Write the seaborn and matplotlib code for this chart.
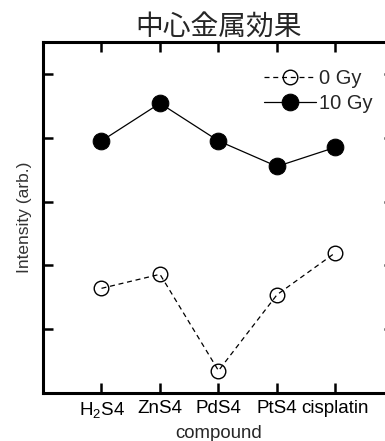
import matplotlib
matplotlib.use("Agg")
import matplotlib.pyplot as plt
import seaborn as sns
import pandas as pd

compounds = ["$\\mathregular{H_2}$S4", "ZnS4", "PdS4", "PtS4", "cisplatin"]
dose_labels = ["0 Gy", "10 Gy"]
vals_0gy = [1.64, 1.86, 0.35, 1.54, 2.20]
vals_10gy = [3.95, 4.54, 3.95, 3.55, 3.85]

sns.set_theme(style="ticks")
plt.rcParams['font.family'] = ['Liberation Sans', 'Noto Sans CJK JP', 'DejaVu Sans']
plt.rcParams['mathtext.fontset'] = 'custom'
plt.rcParams['mathtext.rm'] = 'Liberation Sans'

df = pd.DataFrame({
    "x": list(range(len(compounds))) * 2,
    "value": vals_0gy + vals_10gy,
    "dose": [dose_labels[0]] * len(compounds) + [dose_labels[1]] * len(compounds),
})

fig = plt.figure(figsize=(3.85, 4.41), dpi=100)
ax = fig.add_axes([43 / 385, 1 - 393 / 441, 351 / 385, 351 / 441])

d0 = df[df["dose"] == dose_labels[0]]
d1 = df[df["dose"] == dose_labels[1]]
sns.lineplot(data=d0, x="x", y="value", ax=ax, color="black", linewidth=0.9,
             linestyle=(0, (4, 3)), marker="o", markersize=10.5, markerfacecolor="none",
             markeredgecolor="black", markeredgewidth=1.0, label=dose_labels[0])
sns.lineplot(data=d1, x="x", y="value", ax=ax, color="black", linewidth=0.9,
             marker="o", markersize=12, markerfacecolor="black",
             markeredgecolor="black", label=dose_labels[1])

ax.set_xlim(-1, 5)
ax.set_ylim(0, 5.5)
ax.set_xticks(range(len(compounds)))
ax.set_xticklabels(compounds, fontsize=13.5)
ax.set_yticks([1, 2, 3, 4, 5])
ax.set_yticklabels([])
ax.tick_params(direction="in", length=7, width=1.8, top=True, right=True, pad=5, colors="black")
for s in ax.spines.values():
    s.set_linewidth(2.2)
    s.set_color("black")
ax.set_xlabel("compound", fontsize=13.4, labelpad=4)
ax.set_ylabel("Intensity (arb.)", fontsize=12.5, color="#333333", labelpad=3)
ax.set_title("中心金属効果", fontsize=20, pad=5, x=0.5)

leg = ax.legend(loc="upper right", bbox_to_anchor=(0.94, 0.924), frameon=False,
                fontsize=14.5, handlelength=2.6, handletextpad=0.15, labelspacing=0.3,
                borderpad=0.0, borderaxespad=0.0)

fig.savefig("out.png", dpi=100)
